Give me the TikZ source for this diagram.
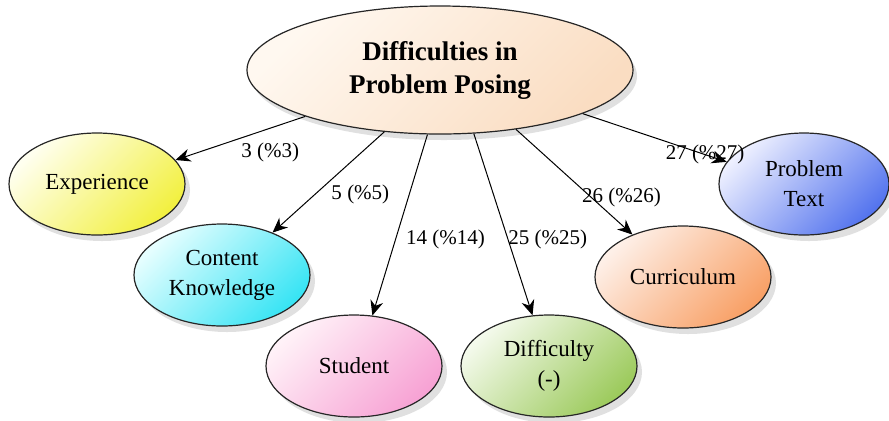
\documentclass[tikz,border=0pt]{standalone}
\usepackage{fontspec}
\setmainfont{Liberation Serif}
\usetikzlibrary{arrows.meta,shapes.geometric,shadows}

\definecolor{posinghi}{HTML}{FFF8F0}
\definecolor{posinglo}{HTML}{FADDC2}
\definecolor{experhi}{HTML}{FFFFF0}
\definecolor{experlo}{HTML}{F2F040}
\definecolor{contenthi}{HTML}{E6FEFF}
\definecolor{contentlo}{HTML}{38E4F4}
\definecolor{studenthi}{HTML}{FFF2F8}
\definecolor{studentlo}{HTML}{F7A2D4}
\definecolor{diffhi}{HTML}{F4FAEC}
\definecolor{difflo}{HTML}{9CCA5C}
\definecolor{currhi}{HTML}{FEF0E8}
\definecolor{currlo}{HTML}{F8A066}
\definecolor{texthi}{HTML}{EEF0FF}
\definecolor{textlo}{HTML}{5474EE}

\begin{document}
\begin{tikzpicture}[x=0.5pt,y=-0.5pt,->,>={Stealth[length=7.5pt,width=6.5pt]},line width=0.5pt,
  topic/.style={ellipse,draw=black!85,semithick,align=center,inner sep=0pt,
    font=\bfseries\fontsize{13.5}{16.5}\selectfont,minimum width=193pt,minimum height=64pt,
    top color=posinghi,bottom color=posinglo,shading angle=45,
    drop shadow={shadow xshift=2pt,shadow yshift=-3pt,fill=black!30,opacity=0.4}},
  cause/.style 2 args={ellipse,draw=black!85,semithick,align=center,inner sep=0pt,
    font=\fontsize{11.5}{15}\selectfont,minimum width=88pt,minimum height=51pt,
    top color=#1,bottom color=#2,shading angle=45,
    drop shadow={shadow xshift=2.5pt,shadow yshift=-3pt,fill=black!30,opacity=0.4}},
  count/.style={font=\fontsize{10.5}{12}\selectfont,inner sep=1pt}]
\useasboundingbox (0,0) rectangle (889,420);

\node[topic] (posing) at (440,70) {Difficulties in\\Problem Posing};
\node[cause={experhi}{experlo}] (exper) at (97,184) {Experience};
\node[cause={contenthi}{contentlo}] (content) at (222,275) {Content\\Knowledge};
\node[cause={studenthi}{studentlo}] (student) at (354,366) {Student};
\node[cause={diffhi}{difflo}] (diff) at (549,366) {Difficulty\\(-)};
\node[cause={currhi}{currlo}] (curr) at (683,277) {Curriculum};
\node[cause={texthi}{textlo},minimum width=85pt] (ptext) at (804,184) {Problem\\Text};

\path (posing.199) edge node[count,pos=0.27,below=6pt] {3 (\%3)} (exper.17)
(posing.228) edge node[count,pos=0.62,right=7pt] {5 (\%5)} (content.40)
(posing.259) edge node[count,pos=0.58,right=4pt] {14 (\%14)} (student.70)
(posing.298) edge node[count,pos=0.58,anchor=west,xshift=-1pt] {25 (\%25)} (diff.108)
(posing.322) edge node[count,pos=0.65,anchor=west,xshift=-6pt] {26 (\%26)} (curr.140)
(posing.343) edge node[count,pos=0.85] {27 (\%27)} (ptext.164);
\end{tikzpicture}
\end{document}
